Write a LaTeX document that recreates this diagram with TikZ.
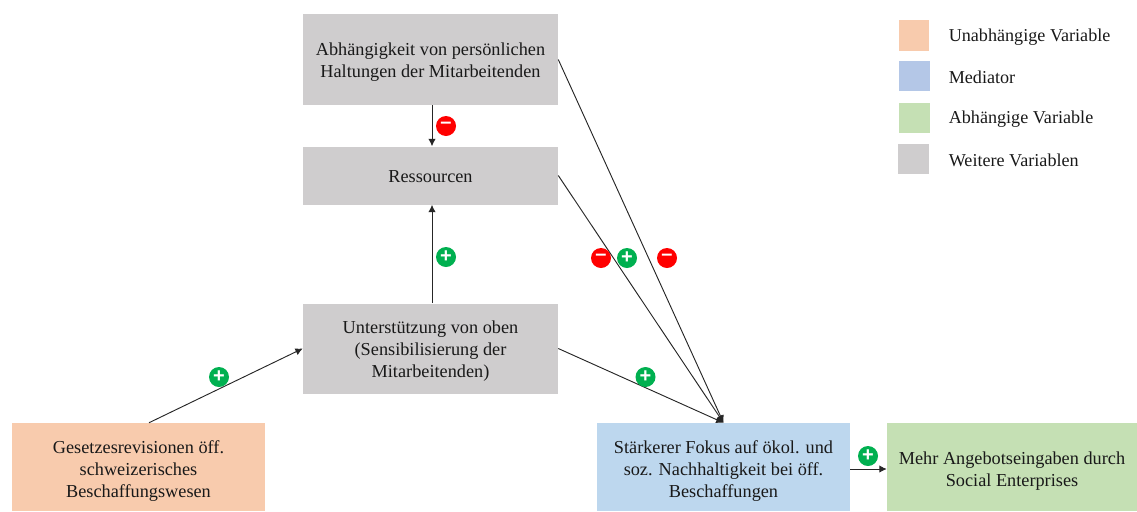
\documentclass[tikz,border=0pt]{standalone}
\usepackage{fontspec}
\setmainfont{Liberation Serif}
\newfontfamily\badgefont{Liberation Sans}
\usetikzlibrary{arrows.meta,calc}
\definecolor{grey}{HTML}{CFCDCE}
\definecolor{orangeb}{HTML}{F8CBAD}
\definecolor{blueb}{HTML}{BDD7EE}
\definecolor{greenb}{HTML}{C5E0B4}
\definecolor{bluel}{HTML}{B4C7E7}
\definecolor{plusc}{HTML}{00B050}
\definecolor{minusc}{HTML}{FF0000}
\newcommand\dnstrut[1]{\rule{0pt}{#1pt}}
\tikzset{
  x=0.75pt,y=-0.75pt,
  box/.style={inner sep=0pt,align=center,font=\fontsize{13.7}{16.4}\selectfont,text=black!90},
  legbox/.style={inner sep=0pt,minimum width=23pt,minimum height=23pt},
  legtext/.style={inner sep=0pt,anchor=west,font=\fontsize{13.6}{15}\selectfont,text=black!90},
  conn/.style={draw=black!85,line width=0.7pt,-{Latex[length=5.5pt,width=5.5pt]}},
  badge/.style={circle,inner sep=0pt,minimum size=15pt,text=white,font=\badgefont\bfseries\fontsize{15}{15}\selectfont},
  plus/.style={badge,fill=plusc},
  minus/.style={badge,fill=minusc},
}
\begin{document}
\begin{tikzpicture}
\useasboundingbox (0,0) rectangle (1137,511);
\node[box,fill=grey,minimum width=191.25pt,minimum height=68.25pt] (A) at (430.5,59.5) {\dnstrut{13.8}Abhängigkeit von persönlichen\\Haltungen der Mitarbeitenden};
\node[box,fill=grey,minimum width=191.25pt,minimum height=43.5pt] (R) at (430.5,175.5) {\dnstrut{10.8}Ressourcen};
\node[box,fill=grey,minimum width=191.25pt,minimum height=67.5pt] (U) at (430.5,348.5) {\dnstrut{13}Unterstützung von oben\\(Sensibilisierung der\\Mitarbeitenden)};
\node[box,fill=orangeb,minimum width=190pt,minimum height=66pt] (G) at (138.5,467) {\dnstrut{15.3}Gesetzesrevisionen öff.\\schweizerisches\\Beschaffungswesen};
\node[box,fill=blueb,minimum width=190pt,minimum height=66pt] (S) at (723.5,467) {\dnstrut{15.3}Stärkerer Fokus auf ökol. und\\soz. Nachhaltigkeit bei öff.\\Beschaffungen};
\node[box,fill=greenb,minimum width=187.5pt,minimum height=66pt] (M) at (1012,467) {\dnstrut{16}Mehr Angebotseingaben durch\\Social Enterprises};

\node[legbox,fill=orangeb] (L1) at (914,35.5) {};
\node[legbox,fill=bluel] (L2) at (914.5,76) {};
\node[legbox,fill=greenb] (L3) at (914.5,118) {};
\node[legbox,fill=grey] (L4) at (913.5,159) {};
\node[legtext] (T1) at (948.5,37) {Unabhängige Variable};
\node[legtext] (T2) at (948.5,77) {Mediator};
\node[legtext] (T3) at (948.5,119) {Abhängige Variable};
\node[legtext] (T4) at (948.5,160) {Weitere Variablen};

\draw[conn] ($(A.south)+(1.5,0)$) -- ($(R.north)+(1.5,0)$);
\draw[conn] ($(U.north)+(1.5,0)$) -- ($(R.south)+(1.5,0)$);
\draw[conn] ($(G.north)+(10.5,0)$) -- (U.west);
\draw[conn] (A.east) -- (S.north);
\draw[conn] (R.east) -- (S.north);
\draw[conn] (U.east) -- (S.north);
\draw[conn] ($(S.east)+(0,2)$) -- ($(M.west)+(0,2)$);

\node[minus] (b1) at (446,126) {\raisebox{0.5pt}{–}};
\node[plus] (b2) at (446,257) {+};
\node[plus] (b3) at (219,377) {+};
\node[minus] (b4) at (601,258) {\raisebox{0.5pt}{–}};
\node[plus] (b5) at (627,258) {+};
\node[minus] (b6) at (667,258) {\raisebox{0.5pt}{–}};
\node[plus] (b7) at (645.5,377) {+};
\node[plus] (b8) at (868,456) {+};
\end{tikzpicture}
\end{document}
